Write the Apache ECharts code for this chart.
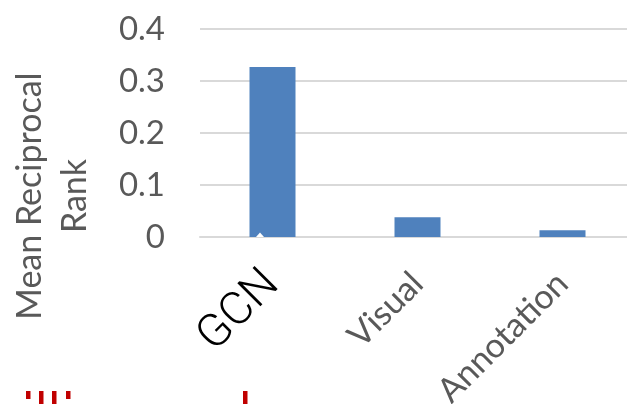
<!DOCTYPE html>
<html>
<head>
<meta charset="utf-8">
<script src="https://cdn.jsdelivr.net/npm/echarts@6/dist/echarts.min.js"></script>
<style>
  html, body { margin: 0; padding: 0; background: #ffffff; }
  #chart { width: 627px; height: 404px; }
</style>
</head>
<body>
<div id="chart"></div>
<script>
// Mean reciprocal rank per method
const categories = ['GCN', 'Visual', 'Annotation'];
const mrrValues = [0.327, 0.038, 0.013];
const yTicks = [0, 0.1, 0.2, 0.3, 0.4];

const axisGray = '#595959';
const gridGray = '#d9d9d9';
const barBlue = '#4f81bd';

const chart = echarts.init(document.getElementById('chart'), null, { renderer: 'canvas' });

chart.setOption({
  backgroundColor: '#ffffff',
  animation: false,
  grid: {
    left: 200, top: 29, width: 435, bottom: 167,
    containLabel: false,
    outerBoundsMode: 'none'
  },
  xAxis: {
    type: 'category',
    data: categories,
    axisLine: { show: true, lineStyle: { color: gridGray, width: 2 } },
    axisTick: { show: false },
    axisLabel: {
      rotate: 45,
      margin: 41,
      interval: 0,
      color: axisGray,
      fontFamily: 'Lato',
      fontSize: 34,
      formatter: function (v) {
        return v === 'GCN' ? '{g|' + v + '}' : v;
      },
      rich: {
        g: { fontFamily: 'Roboto', fontWeight: 300, fontSize: 46, color: '#000000' }
      }
    }
  },
  yAxis: {
    type: 'value',
    min: yTicks[0],
    max: yTicks[yTicks.length - 1],
    interval: 0.1,
    axisLine: { show: false },
    axisTick: { show: false },
    axisLabel: {
      margin: 35,
      color: axisGray,
      fontFamily: 'Lato',
      fontSize: 33,
      formatter: function (v) { return String(+v.toFixed(1)); }
    },
    splitLine: { show: true, lineStyle: { color: gridGray, width: 2 } }
  },
  series: [{
    type: 'bar',
    data: mrrValues,
    barWidth: 46,
    itemStyle: { color: barBlue },
    silent: true
  }],
  graphic: [
    {
      type: 'text',
      x: 53,
      y: 196,
      rotation: Math.PI / 2,
      style: {
        text: 'Mean Reciprocal\nRank',
        fill: axisGray,
        font: '34px Lato',
        lineHeight: 45,
        textAlign: 'center',
        textVerticalAlign: 'middle',
        align: 'center',
        verticalAlign: 'middle'
      }
    },
    // small notch at the foot of the first bar
    {
      type: 'polygon',
      shape: { points: [[256, 237], [260, 232.5], [264, 237]] },
      style: { fill: '#ffffff' },
      z: 100
    },
    // red marks along the lower edge
    { type: 'rect', shape: { x: 26, y: 391, width: 4.5, height: 8 }, style: { fill: '#c00000' }, z: 100 },
    { type: 'rect', shape: { x: 39, y: 391, width: 4.5, height: 13 }, style: { fill: '#c00000' }, z: 100 },
    { type: 'rect', shape: { x: 52, y: 391, width: 4.5, height: 13 }, style: { fill: '#c00000' }, z: 100 },
    { type: 'rect', shape: { x: 66, y: 391, width: 4.5, height: 8 }, style: { fill: '#c00000' }, z: 100 },
    { type: 'rect', shape: { x: 243, y: 391, width: 4.5, height: 13 }, style: { fill: '#c00000' }, z: 100 }
  ]
});
</script>
</body>
</html>
